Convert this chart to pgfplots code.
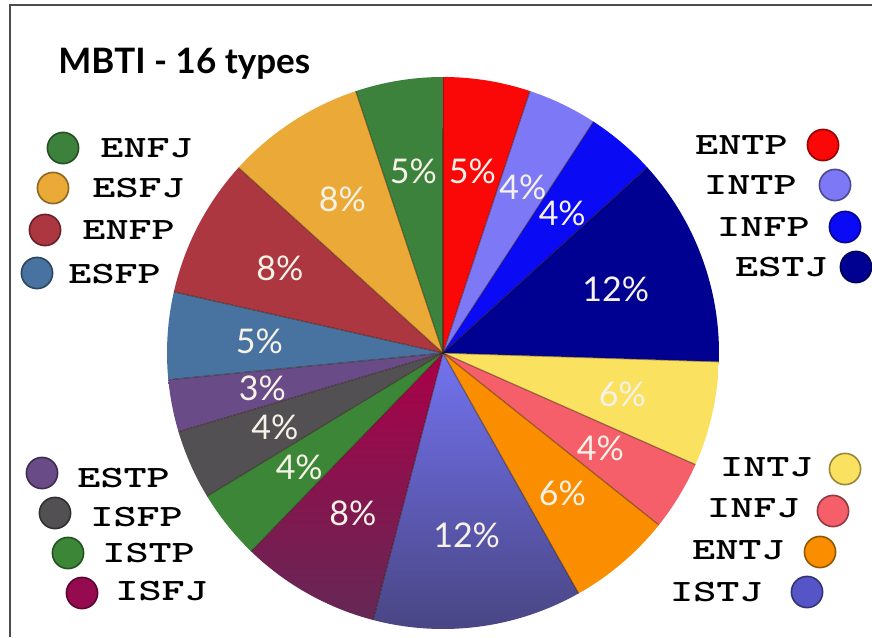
\documentclass[border=0pt]{standalone}
\usepackage{pgfplots}
\pgfplotsset{compat=1.18}
\usepackage{pgfplotstable}
\usepackage{graphicx}
\usepackage{fontspec}
\setmainfont{Lato}
\newfontfamily\lato{Lato}

\definecolor{cENTP}{RGB}{250,8,8}
\definecolor{cINTP}{RGB}{125,120,245}
\definecolor{cINFP}{RGB}{10,10,245}
\definecolor{cESTJ}{RGB}{0,0,145}
\definecolor{cINTJ}{RGB}{250,225,95}
\definecolor{cINFJ}{RGB}{245,95,105}
\definecolor{cENTJ}{RGB}{250,142,0}
\definecolor{cISTJ}{RGB}{115,115,240}
\definecolor{cISTJb}{RGB}{72,68,128}
\definecolor{cISFJ}{RGB}{170,0,72}
\definecolor{cISFJb}{RGB}{100,40,85}
\definecolor{cISTP}{RGB}{60,135,55}
\definecolor{cISFP}{RGB}{82,80,82}
\definecolor{cESTP}{RGB}{105,75,135}
\definecolor{cESFP}{RGB}{72,115,160}
\definecolor{cENFP}{RGB}{172,55,65}
\definecolor{cESFJ}{RGB}{235,170,55}
\definecolor{cENFJ}{RGB}{60,130,60}
\definecolor{lbltext}{RGB}{246,242,232}
\definecolor{lISFJ}{RGB}{150,10,80}
\definecolor{lISTJ}{RGB}{85,85,200}

\tikzset{lbl/.style={text=lbltext,inner sep=0pt,font=\lato\fontsize{17}{17}\selectfont}}

% MBTI type shares (percent), clockwise from 12 o'clock
\pgfplotstableread{
name value col colb
ENTP 5 cENTP cENTP
INTP 4 cINTP cINTP
INFP 4 cINFP cINFP
ESTJ 12 cESTJ cESTJ
INTJ 6 cINTJ cINTJ
INFJ 4 cINFJ cINFJ
ENTJ 6 cENTJ cENTJ
ISTJ 12 cISTJ cISTJb
ISFJ 8 cISFJ cISFJb
ISTP 4 cISTP cISTP
ISFP 4 cISFP cISFP
ESTP 3 cESTP cESTP
ESFP 5 cESFP cESFP
ENFP 8 cENFP cENFP
ESFJ 8 cESFJ cESFJ
ENFJ 5 cENFJ cENFJ
}\mbti

\def\total{0}
\pgfplotstableforeachcolumnelement{value}\of\mbti\as\val{%
  \pgfmathsetmacro\total{\total+\val}\global\let\total\total}

\newcommand\legfont{\ttfamily\bfseries\addfontfeature{FakeBold=1.3}\fontsize{15.5}{15.5}\selectfont}
\newcommand\legL[6]{%
  \fill[#6] (axis cs:#1,#2) circle[radius=7.8pt];
  \draw[#6!60!black,line width=0.8pt] (axis cs:#1,#2) circle[radius=7.8pt];
  \node[anchor=west,inner sep=0pt,font=\legfont] at (axis cs:#3,#4) {\scalebox{1.42}[1]{#5}};}
\newcommand\legR[6]{%
  \fill[#6] (axis cs:#1,#2) circle[radius=7.8pt];
  \draw[#6!60!black,line width=0.8pt] (axis cs:#1,#2) circle[radius=7.8pt];
  \node[anchor=east,inner sep=0pt,font=\legfont] at (axis cs:#3,#4) {\scalebox{1.42}[1]{#5}};}

\begin{document}
\begin{tikzpicture}
\begin{axis}[x=0.5pt,y=0.5pt,xmin=0,xmax=872,ymin=0,ymax=637,y dir=reverse,
  hide axis,clip=false]
\fill[white] (axis cs:0,0) rectangle (axis cs:872,637);
\draw[line width=1pt,black!70] (axis cs:10,637) -- (axis cs:10,5) -- (axis cs:872,5);

% slices
\def\astart{90}
\pgfplotsforeachungrouped \i in {0,...,15}{%
  \pgfplotstablegetelem{\i}{value}\of\mbti \edef\v{\pgfplotsretval}%
  \pgfplotstablegetelem{\i}{col}\of\mbti \edef\c{\pgfplotsretval}%
  \pgfplotstablegetelem{\i}{colb}\of\mbti \edef\cb{\pgfplotsretval}%
  \pgfmathsetmacro\aend{\astart-\v/\total*360}%
  \edef\temp{\noexpand\shade[top color=\c,bottom color=\cb] (axis cs:443,353) -- ++(\astart:138pt) arc[start angle=\astart,end angle=\aend,radius=138pt] -- cycle;}%
  \temp
  \global\let\astart\aend
}
% slice edges and labels
\def\astart{90}
\pgfplotsforeachungrouped \i in {0,...,15}{%
  \pgfplotstablegetelem{\i}{value}\of\mbti \edef\v{\pgfplotsretval}%
  \pgfmathsetmacro\aend{\astart-\v/\total*360}%
  \pgfmathsetmacro\amid{(\astart+\aend)/2}%
  \edef\temp{\noexpand\draw[black!75!brown,opacity=0.45,line width=0.6pt] (axis cs:443,353) -- ++(\astart:138pt);
    \noexpand\path (axis cs:443,353) ++(\amid:92pt) node[lbl]{\v\noexpand\%};}%
  \temp
  \global\let\astart\aend
}

\node[anchor=west,inner sep=0pt,font=\lato\bfseries\fontsize{17.5}{17.5}\selectfont] at (axis cs:58,64) {MBTI - 16 types};

\legL{63}{148}{100}{148}{ENFJ}{cENFJ}
\legL{53}{188}{92}{188}{ESFJ}{cESFJ}
\legL{45}{230}{82}{230}{ENFP}{cENFP}
\legL{37}{273}{68}{274}{ESFP}{cESFP}
\legL{42}{473}{77}{478}{ESTP}{cESTP}
\legL{55}{513}{90}{517}{ISFP}{cISFP}
\legL{68}{553}{102}{553}{ISTP}{cISTP}
\legL{82}{593}{115}{591}{ISFJ}{lISFJ}
\legR{823}{145}{788}{145}{ENTP}{cENTP}
\legR{835}{185}{797}{185}{INTP}{cINTP}
\legR{845}{227}{810}{227}{INFP}{cINFP}
\legR{856}{267}{828}{267}{ESTJ}{cESTJ}
\legR{845}{469}{813}{467}{INTJ}{cINTJ}
\legR{833}{511}{800}{508}{INFJ}{cINFJ}
\legR{820}{552}{785}{550}{ENTJ}{cENTJ}
\legR{807}{592}{763}{592}{ISTJ}{lISTJ}
\end{axis}
\pgfresetboundingbox
\path[use as bounding box] (current axis.south west) rectangle (current axis.north east);
\end{tikzpicture}
\end{document}
